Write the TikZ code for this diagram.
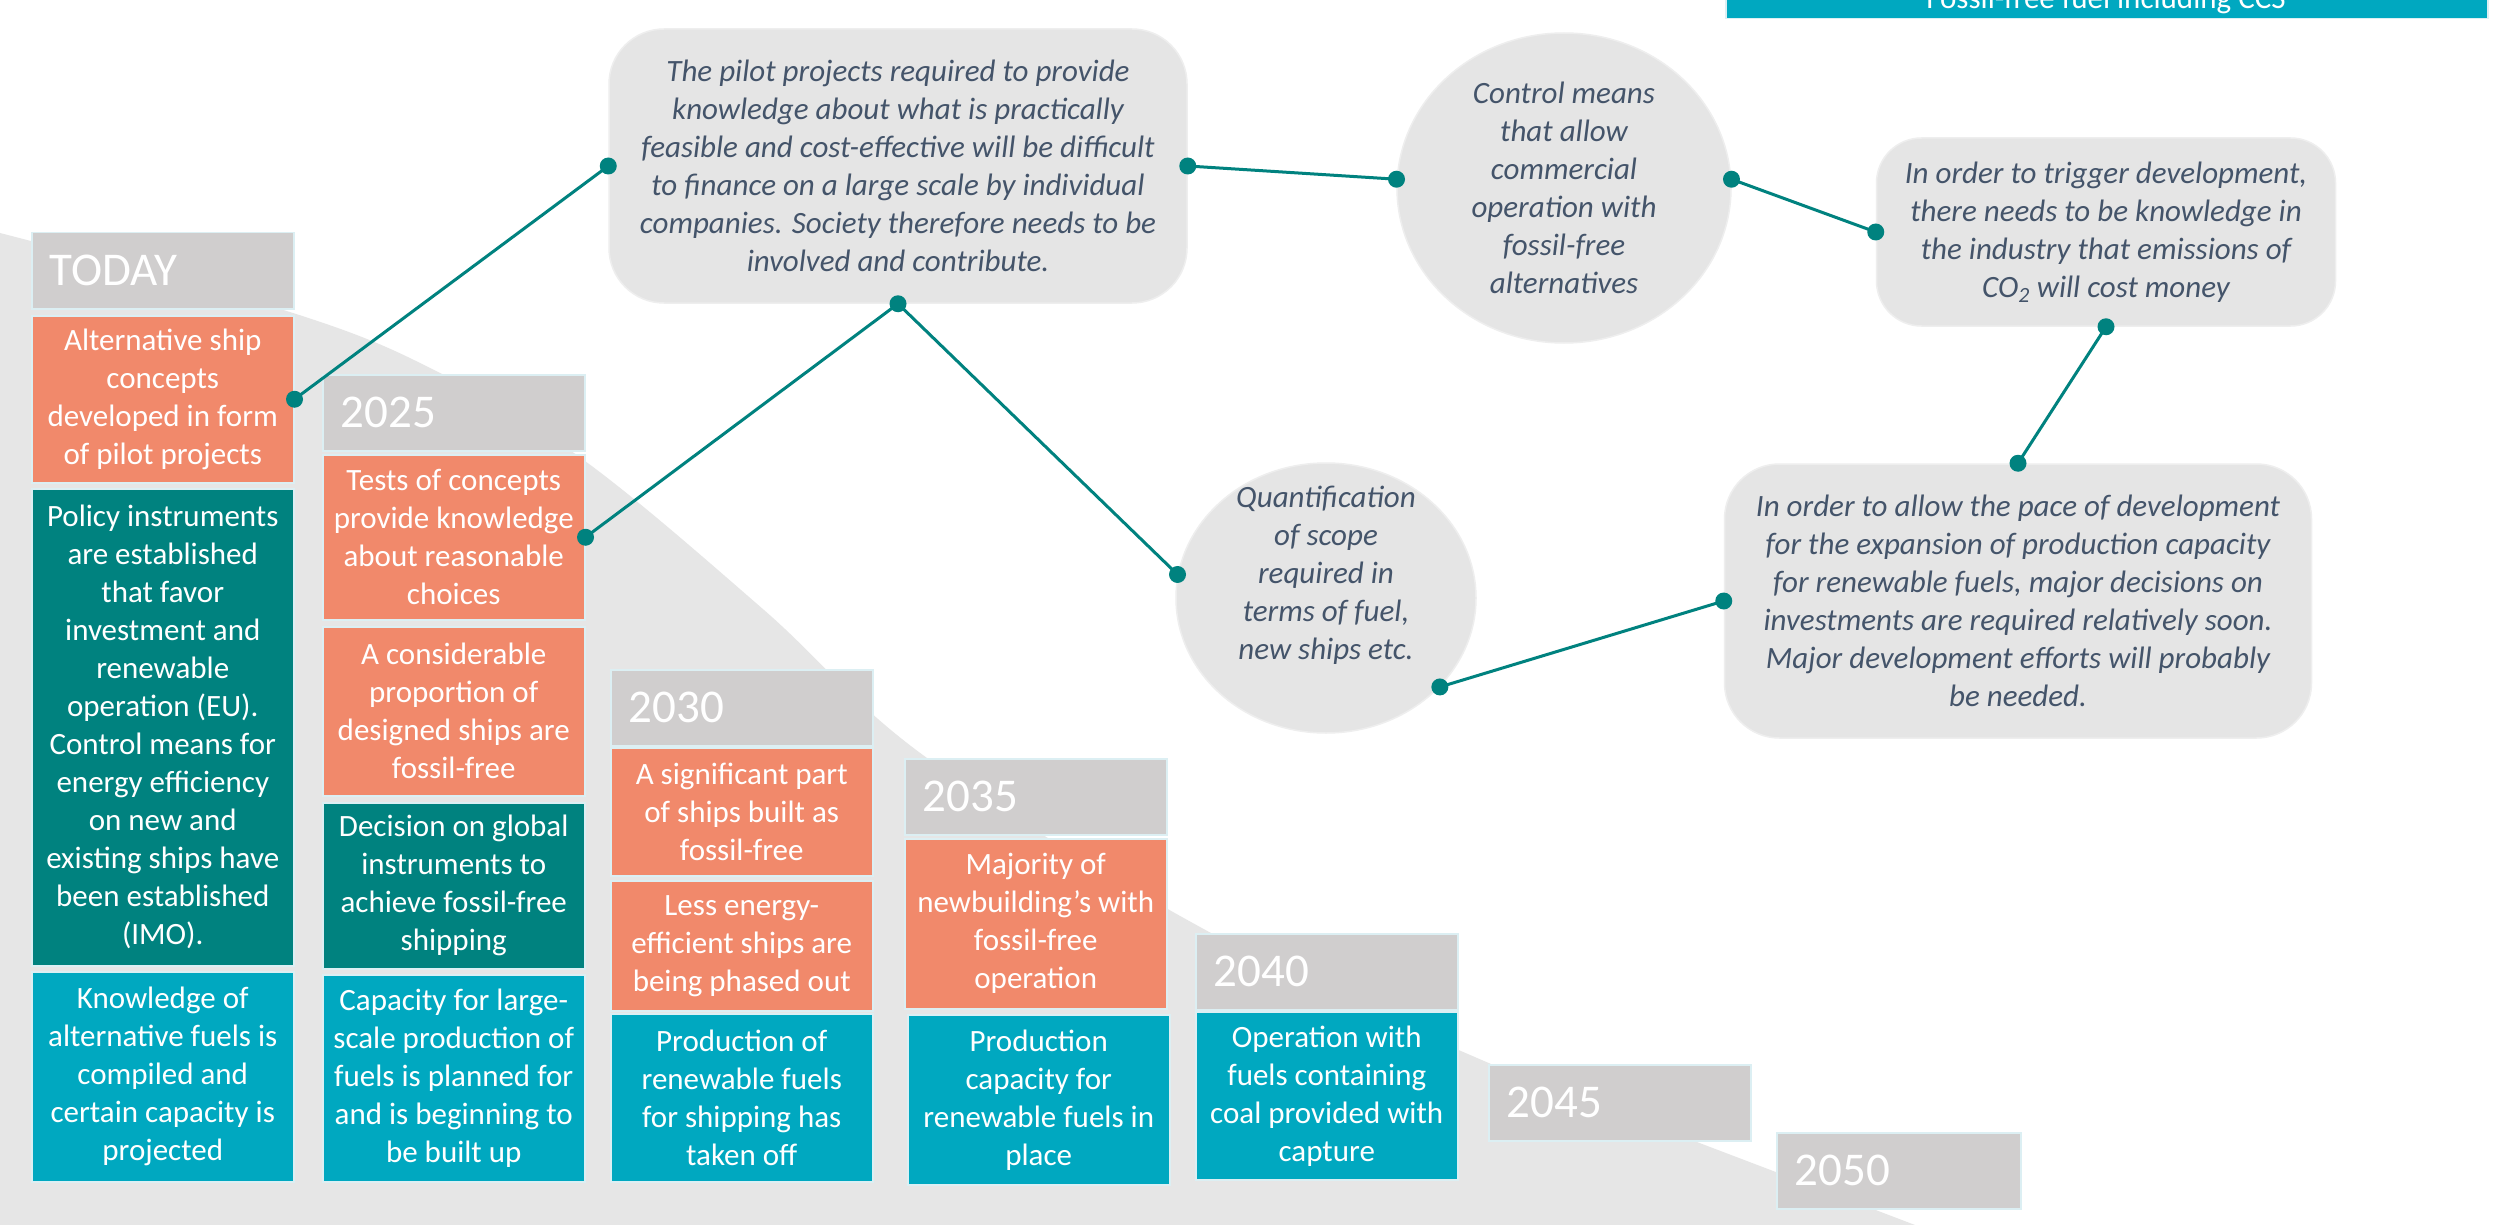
\documentclass[tikz,border=0pt]{standalone}
\usepackage{fontspec}
\setmainfont{Carlito}
\usetikzlibrary{shapes.geometric}
\definecolor{hdr}{HTML}{D0CECE}
\definecolor{orng}{HTML}{F1896B}
\definecolor{dteal}{HTML}{00827F}
\definecolor{lteal}{HTML}{00A8C0}
\definecolor{bggray}{HTML}{E6E6E6}
\definecolor{cgray}{HTML}{E5E5E5}
\definecolor{cedge}{HTML}{EEEEEE}
\definecolor{edge}{HTML}{DCEFF3}
\definecolor{txttwo}{HTML}{44546A}
\definecolor{conncol}{HTML}{00827F}
\begin{document}
\begin{tikzpicture}[x=1pt,y=-1pt,
  hdrbox/.style={anchor=north west, fill=hdr, draw=edge, line width=1.5pt,
    minimum width=262pt, minimum height=76pt, text width=226pt, inner xsep=18pt,
    inner ysep=0pt, align=left, text=white, font=\fontsize{47}{56}\selectfont},
  bodybox/.style={anchor=north west, draw=edge, line width=1.5pt,
    minimum width=262pt, inner sep=0pt, text=white, align=center,
    font=\fontsize{31}{38}\selectfont},
  orbox/.style={bodybox, fill=orng},
  dtbox/.style={bodybox, fill=dteal},
  ltbox/.style={bodybox, fill=lteal},
  callout/.style={fill=cgray, draw=cedge, line width=1.5pt, rounded corners=55pt,
    align=center, text=txttwo, font=\fontsize{31}{38}\selectfont\itshape, inner sep=0pt},
  bubble/.style={ellipse, fill=cgray, draw=cedge, line width=1.5pt, inner sep=0pt},
  calltext/.style={align=center, text=txttwo, font=\fontsize{31}{38}\selectfont\itshape, inner sep=0pt},
  conn/.style={draw=conncol, line width=3pt},
  dotc/.style={fill=conncol}
]
\useasboundingbox (0,0) rectangle (2509,1225);
\fill[white] (0,0) rectangle (2509,1225);

% background swoosh
\fill[bggray] plot[smooth, tension=0.6] coordinates {(0,233) (293,313) (442,374) (585,461) (764,610) (927,758) (1211,933) (1491,1064) (1689,1139) (1915,1225)} -- (0,1225) -- cycle;

% top bar
\node[anchor=north west, fill=lteal, draw=edge, line width=1.5pt, minimum width=762pt, minimum height=20pt, inner sep=0pt] (topbar) at (1725,-2) {};
\node[anchor=base, text=white, font=\fontsize{31}{38}\selectfont, inner sep=0pt] (toptext) at (2106,9) {Fossil-free fuel including CCS};

% column TODAY
\node[hdrbox] (today) at (31,232) {TODAY};
\node[orbox, minimum height=167pt] (alt) at (31,315) {Alternative ship\\concepts\\developed in form\\of pilot projects};
\node[dtbox, minimum height=477pt] (policy) at (31,488) {Policy instruments\\are established\\that favor\\investment and\\renewable\\operation (EU).\\Control means for\\energy efficiency\\on new and\\existing ships have\\been established\\(IMO).};
\node[ltbox, minimum height=210pt] (know) at (31,971) {Knowledge of\\alternative fuels is\\compiled and\\certain capacity is\\projected};

% column 2025
\node[hdrbox] (y2025) at (322,374) {2025};
\node[orbox, minimum height=165pt] (tests) at (322,454) {Tests of concepts\\provide knowledge\\about reasonable\\choices};
\node[orbox, minimum height=169pt] (consid) at (322,626) {A considerable\\proportion of\\designed ships are\\fossil-free};
\node[dtbox, minimum height=166pt] (decision) at (322,802) {Decision on global\\instruments to\\achieve fossil-free\\shipping};
\node[ltbox, minimum height=207pt] (capacity) at (322,974) {Capacity for large-\\scale production of\\fuels is planned for\\and is beginning to\\be built up};

% column 2030
\node[hdrbox] (y2030) at (610,669) {2030};
\node[orbox, minimum height=128pt] (signif) at (610,747) {A significant part\\of ships built as\\fossil-free};
\node[orbox, minimum height=130pt] (less) at (610,880) {Less energy-\\efficient ships are\\being phased out};
\node[ltbox, minimum height=168pt] (prodren) at (610,1013) {Production of\\renewable fuels\\for shipping has\\taken off};

% column 2035
\node[hdrbox] (y2035) at (904,758) {2035};
\node[orbox, minimum height=170pt] (majority) at (904,838) {Majority of\\newbuilding{\char"0027}s with\\fossil-free\\operation};
\node[ltbox, minimum height=170pt] (prodcap) at (907,1014) {Production\\capacity for\\renewable fuels in\\place};

% column 2040
\node[hdrbox] (y2040) at (1195,933) {2040};
\node[ltbox, minimum height=168pt] (operation) at (1195,1011) {Operation with\\fuels containing\\coal provided with\\capture};

% 2045, 2050
\node[hdrbox] (y2045) at (1488,1064) {2045};
\node[hdrbox, minimum width=244pt, text width=208pt] (y2050) at (1776,1132) {2050};

% callouts
\node[callout, minimum width=578pt, minimum height=274pt] (pilot) at (898,166) {The pilot projects required to provide\\knowledge about what is practically\\feasible and cost-effective will be difficult\\to finance on a large scale by individual\\companies. Society therefore needs to be\\involved and contribute.};
\node[bubble, minimum width=334pt, minimum height=310pt] (control) at (1564,188) {};
\node[calltext] (controltxt) at (1564,188) {Control means\\that allow\\commercial\\operation with\\fossil-free\\alternatives};
\node[callout, rounded corners=45pt, minimum width=459pt, minimum height=188pt] (trigger) at (2106,232) {In order to trigger development,\\there needs to be knowledge in\\the industry that emissions of\\CO\textsubscript{2} will cost money};
\node[bubble, minimum width=300pt, minimum height=270pt] (quant) at (1326,598) {};
\node[calltext] (quanttxt) at (1326,575) {Quantification\\of scope\\required in\\terms of fuel,\\new ships etc.};
\node[callout, minimum width=587pt, minimum height=274pt] (allow) at (2018,601) {In order to allow the pace of development\\for the expansion of production capacity\\for renewable fuels, major decisions on\\investments are required relatively soon.\\Major development efforts will probably\\be needed.};

% connectors
\draw[conn] (alt.east) -- (pilot.west);
\draw[conn] (tests.east) -- (pilot.south);
\draw[conn] (pilot.south) -- (quant.171);
\draw[conn] (pilot.east) -- (control.177);
\draw[conn] (control.3) -- (trigger.west);
\draw[conn] (trigger.south) -- (allow.north);
\draw[conn] (quant.-38) -- (allow.west);

% dots
\foreach \p in {alt.east, tests.east, pilot.west, pilot.south, pilot.east, control.177, control.3, trigger.west, trigger.south, allow.north, quant.171, quant.-38, allow.west}
  \fill[dotc] (\p) circle (8.5);
\end{tikzpicture}
\end{document}
